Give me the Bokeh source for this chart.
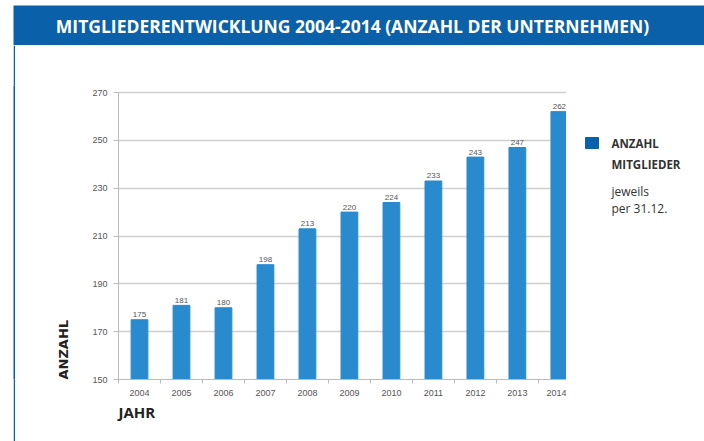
from bokeh.plotting import figure
from bokeh.layouts import column, row
from bokeh.models import Range1d, FixedTicker, Title, Spacer
from bokeh.core.properties import value
from bokeh.embed import file_html
from bokeh.resources import INLINE

# ---- data ----
years = ["2004", "2005", "2006", "2007", "2008", "2009", "2010", "2011", "2012", "2013", "2014"]
members = [175, 181, 180, 198, 213, 220, 224, 233, 243, 247, 262]
y_ticks = [150, 170, 190, 210, 230, 250, 270]

title_text = "MITGLIEDERENTWICKLUNG 2004-2014 (ANZAHL DER UNTERNEHMEN)"
legend_bold = ["ANZAHL", "MITGLIEDER"]
legend_normal = ["jeweils", "per 31.12."]

HEADER_BLUE = "#0a60a9"
BAR_BLUE = "#2a8ace"
FONT = "Open Sans"


def blank(fig):
    fig.outline_line_color = None
    fig.xgrid.visible = False
    fig.ygrid.visible = False
    fig.min_border = 0
    return fig


# ---------- header ----------
header = figure(width=691, height=40, output_backend="svg", toolbar_location=None, title=None,
                x_range=Range1d(0, 691), y_range=Range1d(0, 40),
                x_axis_type=None, y_axis_type=None,
                min_border=0, background_fill_color=HEADER_BLUE, border_fill_color=HEADER_BLUE)
blank(header)
header.text(x=[339], y=[20], text=[title_text], text_align="center", text_baseline="middle",
            text_font=value(FONT), text_font_style="bold", text_font_size="17.5px",
            text_color="white")

# ---------- left border ----------
border = figure(width=2, height=396, output_backend="svg", toolbar_location=None, title=None,
                x_axis_type=None, y_axis_type=None, min_border=0,
                background_fill_color=HEADER_BLUE, border_fill_color=HEADER_BLUE)
blank(border)

# ---------- main chart ----------
xs = list(range(len(years)))
p = figure(width=551, height=396, output_backend="svg", toolbar_location=None, title=None,
           x_range=Range1d(-0.5, 10.17), y_range=Range1d(150, 272.93),
           min_border_left=103, min_border_right=0, min_border_top=40, min_border_bottom=62)
p.outline_line_color = None
p.background_fill_color = "white"
p.border_fill_color = "white"

p.vbar(x=xs, top=members, bottom=150, width=0.4, color=BAR_BLUE)
p.text(x=xs, y=members, text=[str(m) for m in members], text_align="center",
       text_baseline="alphabetic", y_offset=-5, text_font=value("Liberation Sans"),
       text_font_size="8px", text_color="#555555")

p.xgrid.visible = False
p.ygrid.grid_line_color = "#cfcfcf"
p.ygrid.grid_line_width = 1.3
p.ygrid.ticker = FixedTicker(ticks=y_ticks)

xa = p.xaxis[0]
xa.ticker = FixedTicker(ticks=xs, minor_ticks=[i - 0.5 for i in range(len(years) + 1)])
xa.major_label_overrides = {i: y for i, y in zip(xs, years)}
xa.major_tick_line_color = None
xa.major_tick_out = 0
xa.major_tick_in = 0
xa.minor_tick_out = 4
xa.minor_tick_in = 0
xa.minor_tick_line_color = "#bbbbbb"
xa.axis_line_color = "#bbbbbb"
xa.major_label_standoff = 6
xa.major_label_text_font = "Liberation Sans"
xa.major_label_text_font_size = "9px"
xa.major_label_text_color = "#555555"

ya = p.yaxis[0]
ya.ticker = FixedTicker(ticks=y_ticks)
ya.bounds = (150, 270)
ya.minor_tick_line_color = None
ya.major_tick_out = 5
ya.major_tick_in = 0
ya.major_tick_line_color = "#bbbbbb"
ya.axis_line_color = "#bbbbbb"
ya.major_label_standoff = 6
ya.major_label_text_font = "Liberation Sans"
ya.major_label_text_font_size = "9px"
ya.major_label_text_color = "#555555"

p.add_layout(Title(text="JAHR", align="left", text_font=FONT, text_font_style="bold",
                   text_font_size="15px", text_color="#222222", standoff=3), "below")
p.add_layout(Title(text="ANZAHL", align="left", text_font="DejaVu Sans", text_font_style="bold",
                   text_font_size="13px", text_color="#222222", standoff=38), "left")

# ---------- legend ----------
LTOP = 85          # legend panel offset below the header
LH = 110           # legend panel height
leg = figure(width=138, height=LH, output_backend="svg", toolbar_location=None, title=None,
             x_range=Range1d(0, 138), y_range=Range1d(0, LH),
             x_axis_type=None, y_axis_type=None, min_border=0,
             background_fill_color="white", border_fill_color="white")
blank(leg)
leg.quad(left=[19], right=[32], top=[LH - 7], bottom=[LH - 18], color=HEADER_BLUE)
leg.text(x=[45, 45], y=[LH - 13.3, LH - 33.5], text=legend_bold, text_baseline="alphabetic",
         text_font=value(FONT), text_font_style="bold", text_font_size="11.5px",
         text_color="#333333")
leg.text(x=[45, 45], y=[LH - 61.3, LH - 78.3], text=legend_normal, text_baseline="alphabetic",
         text_font=value(FONT), text_font_size="12px", text_color="#333333")

leg_col = column(Spacer(width=138, height=LTOP), leg, Spacer(width=138, height=396 - LTOP - LH))

layout = column(
    Spacer(width=704, height=5),
    row(Spacer(width=13, height=40), header),
    row(Spacer(width=13, height=396), border, p, leg_col),
)

open("out.html", "w").write(file_html(layout, INLINE))
